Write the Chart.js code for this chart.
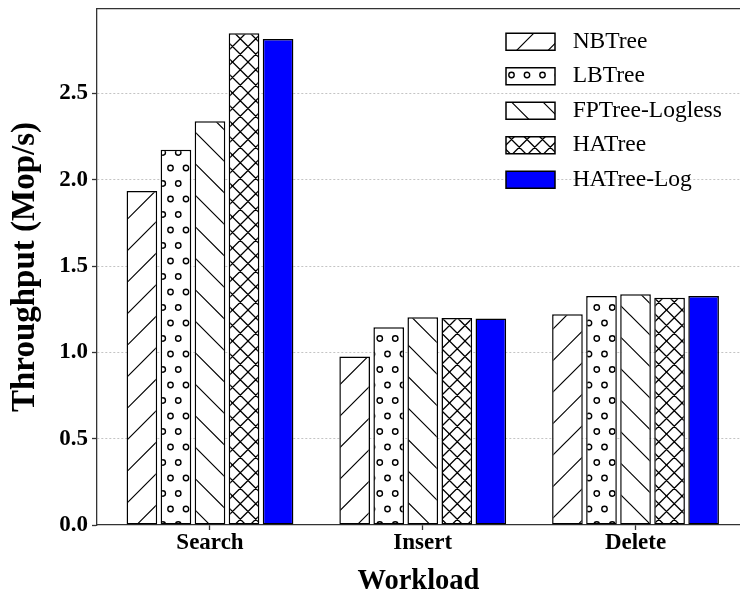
<!DOCTYPE html>
<html>
<head>
<meta charset="utf-8">
<script src="https://cdn.jsdelivr.net/npm/chart.js@4.4.1/dist/chart.umd.min.js"></script>
<style>
  body { margin: 0; background: #fff; }
  canvas { display: block; }
</style>
</head>
<body>
<canvas id="myChart" width="740" height="596"></canvas>
<script>
var categories = ['Search', 'Insert', 'Delete'];
var seriesNames = ['NBTree', 'LBTree', 'FPTree-Logless', 'HATree', 'HATree-Log'];
var nbtree    = [1.935, 0.976, 1.221];
var lbtree    = [2.175, 1.146, 1.327];
var fptree    = [2.339, 1.204, 1.337];
var hatree    = [2.849, 1.199, 1.317];
var hatreeLog = [2.816, 1.196, 1.327];
var yTicks = [0, 0.5, 1.0, 1.5, 2.0, 2.5];

var canvas = document.getElementById('myChart');
var ctx = canvas.getContext('2d');

// hatch patterns like matplotlib ('/', 'o', '\\', 'xx')
function makePattern(size, draw) {
  var c = document.createElement('canvas');
  c.width = size; c.height = size;
  var g = c.getContext('2d');
  g.fillStyle = '#fff';
  g.fillRect(0, 0, size, size);
  g.strokeStyle = '#000';
  g.lineWidth = 1.2;
  draw(g, size);
  return ctx.createPattern(c, 'repeat');
}

var slash = makePattern(63, function(g, s) {
  g.beginPath();
  for (var o = 0; o <= 126; o += 31.5) { g.moveTo(-10, o + 10); g.lineTo(o + 10, -10); }
  g.stroke();
});
var backslash = makePattern(63, function(g, s) {
  g.beginPath();
  for (var o = -63; o <= 63; o += 31.5) { g.moveTo(-10, o - 10); g.lineTo(73, o + 73); }
  g.stroke();
});
var cross = makePattern(31, function(g, s) {
  g.lineWidth = 1.3;
  g.beginPath();
  for (var o = -31; o <= 62; o += 15.5) {
    g.moveTo(-10, o + 10); g.lineTo(o + 10, -10);
    g.moveTo(-10, o - 10); g.lineTo(41, o + 41);
  }
  g.stroke();
});
var dots = makePattern(31, function(g, s) {
  g.lineWidth = 1.4;
  for (var r = -1; r <= 3; r++) {
    for (var c = -1; c <= 3; c++) {
      var x = c * 15.5 + (r % 2 ? 7.75 : 0);
      var y = r * 15.5 + 13;
      g.beginPath();
      g.arc(x, y, 2.7, 0, Math.PI * 2);
      g.stroke();
    }
  }
});

var fills = [slash, dots, backslash, cross, '#0000ff'];
var values = [nbtree, lbtree, fptree, hatree, hatreeLog];

var datasets = seriesNames.map(function(name, k) {
  return {
    label: name,
    xAxisID: 'x',
    data: values[k].map(function(v, i) { return {x: i, y: v}; }),
    backgroundColor: fills[k],
    borderColor: '#000',
    borderWidth: 1.5,
    borderSkipped: false,
    categoryPercentage: 0.8,
    barPercentage: 0.9
  };
});

var serif = 'Liberation Serif';

// put the legend inside the plot, top right
var legendPos = {
  id: 'legendPos',
  beforeDraw: function(chart) {
    chart.legend.left = 495;
    chart.legend.top = 19;
  }
};

new Chart(canvas, {
  type: 'bar',
  data: { datasets: datasets },
  plugins: [legendPos],
  options: {
    responsive: false,
    animation: false,
    devicePixelRatio: 1,
    layout: { padding: 0 },
    plugins: {
      tooltip: { enabled: false },
      legend: {
        position: 'chartArea',
        align: 'start',
        labels: {
          color: '#000',
          font: { family: serif, size: 23.5 },
          boxWidth: 49,
          boxHeight: 17,
          padding: 11,
          generateLabels: function(chart) {
            var items = Chart.defaults.plugins.legend.labels.generateLabels(chart);
            items.forEach(function(it) { it.text = ' ' + it.text; });
            return items;
          }
        }
      }
    },
    scales: {
      x: {
        type: 'linear',
        position: 'bottom',
        offset: false,
        min: -0.531,
        max: 2.491,
        afterBuildTicks: function(s) {
          s.ticks = categories.map(function(c, i) { return {value: i}; });
        },
        afterFit: function(s) {
          s.height = 71;
          s.paddingLeft = 0; s.paddingRight = 0;
        },
        ticks: {
          autoSkip: false,
          maxRotation: 0,
          color: '#000',
          padding: 2,
          font: { family: serif, size: 23, weight: 'bold', lineHeight: 1 },
          callback: function(v) { return categories[v]; }
        },
        grid: { offset: false, drawOnChartArea: false, tickLength: 5, tickColor: '#333', tickWidth: 1.3 },
        border: { color: '#333', width: 1.3 },
        title: {
          display: true,
          text: 'Workload',
          color: '#000',
          font: { family: serif, size: 28.5, weight: 'bold', lineHeight: 1 },
          padding: { top: 0.5, bottom: 0 }
        }
      },
      x2: {
        type: 'linear',
        position: 'top',
        afterFit: function(s) { s.height = 9; },
        ticks: { display: false },
        grid: { display: false },
        border: { color: '#333', width: 1.3 }
      },
      y: {
        min: 0,
        max: 2.99,
        afterFit: function(s) {
          s.width = 97;
          s.paddingTop = 0; s.paddingBottom = 0;
        },
        afterBuildTicks: function(s) {
          s.ticks = yTicks.map(function(v) { return {value: v}; });
        },
        ticks: {
          color: '#000',
          padding: 4,
          font: { family: serif, size: 23, weight: 'bold' },
          callback: function(v) { return v.toFixed(1); }
        },
        grid: {
          color: function(c) { return c.tick && c.tick.value === 0 ? 'rgba(0,0,0,0)' : '#c4c4c4'; },
          lineWidth: 1,
          tickLength: 5,
          tickColor: '#333',
          tickWidth: 1.3,
          tickBorderDash: []
        },
        border: { color: '#333', width: 1.3, dash: [2, 2] },
        title: {
          display: true,
          text: 'Throughput (Mop/s)',
          color: '#000',
          font: { family: serif, size: 33, weight: 'bold', lineHeight: 1 },
          padding: { top: 9, bottom: 0 }
        }
      }
    }
  }
});
</script>
</body>
</html>
